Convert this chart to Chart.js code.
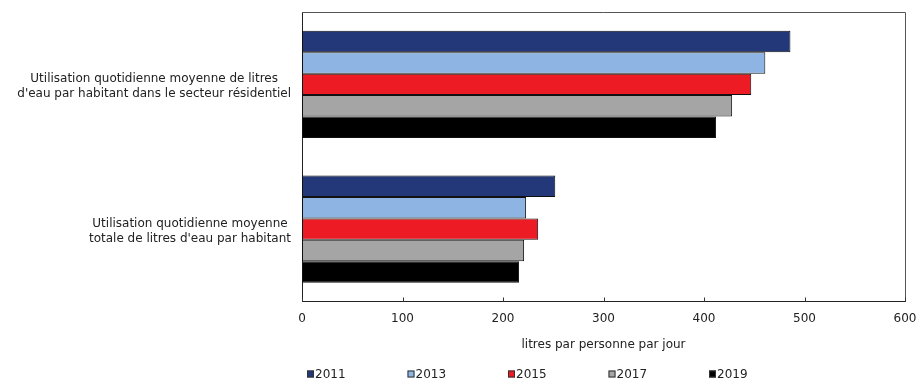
<!DOCTYPE html>
<html><head><meta charset="utf-8">
<script src="https://cdn.jsdelivr.net/npm/chart.js@4"></script>
<style>html,body{margin:0;padding:0;background:#fff}#wrap{width:917px;height:380px;position:relative}</style>
</head><body><div id="wrap"><canvas id="c" width="917" height="380"></canvas></div>
<script>
const categories = [
  ["Utilisation quotidienne moyenne de litres", "d'eau par habitant dans le secteur résidentiel"],
  ["Utilisation quotidienne moyenne", "totale de litres d'eau par habitant"]
];
const years = ["2011", "2013", "2015", "2017", "2019"];
const values2011 = [486, 252];
const values2013 = [461, 223];
const values2015 = [447, 235];
const values2017 = [428, 221];
const values2019 = [412, 216];
const seriesColors = ["#233878", "#8db4e2", "#ed1c24", "#a5a5a5", "#000000"];
const xTickValues = [0, 100, 200, 300, 400, 500, 600];
const xTitle = "litres par personne par jour";

const FONT = "'DejaVu Sans', Verdana, sans-serif";
const TXT = "#222222";
const allValues = [values2011, values2013, values2015, values2017, values2019];

const decorPlugin = {
  id: 'decor',
  afterDraw(chart) {
    const ctx = chart.ctx;
    const a = chart.chartArea;
    const xs = chart.scales.x, ys = chart.scales.y;
    ctx.save();
    // frame top + right
    ctx.strokeStyle = '#555';
    ctx.lineWidth = 1;
    ctx.beginPath();
    ctx.moveTo(a.left, a.top + 0.5); ctx.lineTo(a.right + 0.5, a.top + 0.5); ctx.lineTo(a.right + 0.5, a.bottom);
    ctx.stroke();
    // inner tick marks
    ctx.strokeStyle = '#333';
    ctx.beginPath();
    xTickValues.forEach(v => {
      const px = Math.round(xs.getPixelForValue(v)) + 0.5;
      ctx.moveTo(px, a.bottom); ctx.lineTo(px, a.bottom - 4);
    });
    ctx.stroke();
    // category labels
    ctx.font = '12px ' + FONT;
    ctx.fillStyle = TXT;
    ctx.textAlign = 'center';
    ctx.textBaseline = 'middle';
    const rightEdge = a.left - 11;
    const lh = 15.5;
    categories.forEach((lines, i) => {
      const cy = ys.getPixelForValue(i) + 2;
      const w = Math.max(...lines.map(l => ctx.measureText(l).width));
      const cx = rightEdge - w / 2;
      lines.forEach((l, j) => {
        ctx.fillText(l, cx, cy + (j - (lines.length - 1) / 2) * lh);
      });
    });
    // legend
    const ly = 374;
    chart.data.datasets.forEach((ds, i) => {
      const x0 = 307 + i * 100.5;
      ctx.fillStyle = ds.backgroundColor;
      ctx.fillRect(x0, ly - 3.5, 7, 7);
      ctx.strokeStyle = '#333';
      ctx.strokeRect(x0 + 0.5, ly - 3, 6, 6);
      ctx.fillStyle = TXT;
      ctx.textAlign = 'left';
      ctx.fillText(ds.label, x0 + 8, ly + 0.5);
    });
    ctx.restore();
  }
};

new Chart(document.getElementById('c'), {
  type: 'bar',
  data: {
    labels: categories,
    datasets: years.map((y, i) => ({
      label: y,
      data: allValues[i],
      backgroundColor: seriesColors[i],
      borderColor: '#111',
      borderWidth: 1,
      borderSkipped: false,
      categoryPercentage: 0.74,
      barPercentage: 1.0
    }))
  },
  options: {
    indexAxis: 'y',
    responsive: false,
    animation: false,
    devicePixelRatio: 1,
    layout: { padding: { top: 12, right: 0, left: 0, bottom: 0 } },
    plugins: { legend: { display: false }, tooltip: { enabled: false } },
    scales: {
      y: {
        type: 'category',
        ticks: { display: false },
        grid: { display: false },
        border: { display: true, color: '#222', width: 1 },
        afterFit(s) { s.width = 302; }
      },
      x: {
        min: 0, max: 600,
        ticks: { stepSize: 100, color: TXT, font: { family: FONT, size: 12 }, padding: 2, maxRotation: 0 },
        grid: { display: false },
        border: { display: true, color: '#222', width: 1 },
        title: { display: true, text: xTitle, color: TXT, font: { family: FONT, size: 12 }, padding: { top: 0, bottom: 28 } },
        afterFit(s) { s.height = 78.5; s.paddingRight = 12; s.paddingLeft = 0; }
      }
    }
  },
  plugins: [decorPlugin]
});
</script></body></html>
